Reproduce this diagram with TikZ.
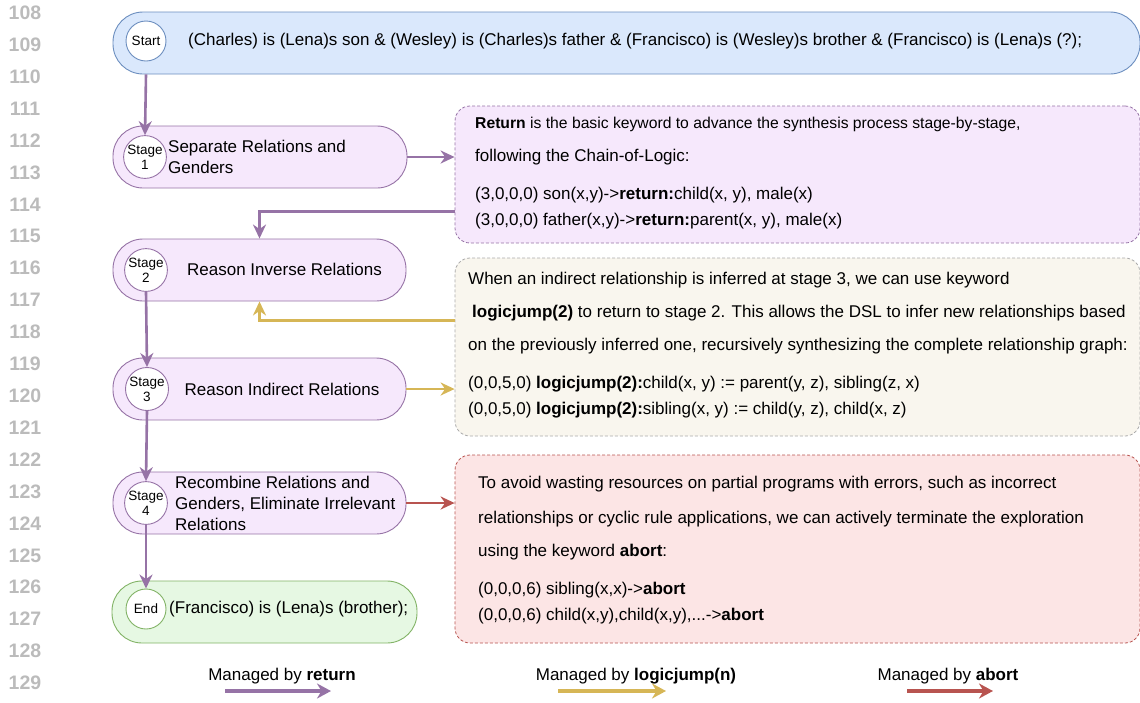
\documentclass[tikz,border=0pt]{standalone}
\usepackage{fontspec}
\setmainfont{Liberation Sans}
\usetikzlibrary{arrows.meta,calc}
\definecolor{pstroke}{HTML}{9673A6}
\definecolor{pfill}{HTML}{F6E8FC}
\definecolor{bstroke}{HTML}{6C8EBF}
\definecolor{bfill}{HTML}{DAE8FC}
\definecolor{gstroke}{HTML}{82B366}
\definecolor{gfill}{HTML}{E6F8E3}
\definecolor{ystroke}{HTML}{D6B656}
\definecolor{yfill}{HTML}{F9F6EE}
\definecolor{graydash}{HTML}{AAAAAA}
\definecolor{rstroke}{HTML}{B85450}
\definecolor{rfill}{HTML}{FCE5E5}
\definecolor{linenum}{HTML}{BBBBBB}
\begin{document}
\begin{tikzpicture}[x=1pt,y=-1pt,
  pill/.style={draw, rounded corners=30pt, minimum height=62pt, line width=0.9pt, inner sep=0pt},
  circ/.style={circle, draw, fill=white, minimum size=40pt, inner sep=0pt, line width=0.9pt,
    font=\fontsize{13.5}{15}\selectfont, align=center},
  note/.style={draw, rounded corners=15pt, line width=0.8pt, inner sep=0pt, dash pattern=on 3pt off 2pt},
  txt/.style={anchor=west, inner sep=0pt, font=\fontsize{17}{21}\selectfont},
  lnum/.style={inner sep=0pt, text=linenum, font=\bfseries\fontsize{19.5}{19.5}\selectfont},
  tipA/.style={-{Stealth[length=14pt,width=13pt,inset=4.5pt]}},
  parr/.style={tipA, draw=pstroke, line width=2.6pt},
  yarr/.style={tipA, draw=ystroke, line width=2.6pt},
  rarr/.style={tipA, draw=rstroke, line width=2.6pt},
  legarr/.style={-{Stealth[length=14pt,width=15pt,inset=4.5pt]}, line width=3.5pt}
]
\useasboundingbox (0,0) rectangle (1140,702);
% line numbers
\foreach \n [count=\i from 0] in {108,...,129} {
  \node[lnum] (ln\n) at (25,{13+\i*31.9}) {\n};
}
% main pills
\node[pill, draw=bstroke, fill=bfill, minimum width=1027pt] (s0) at (626.5,43) {};
\node[pill, draw=pstroke, fill=pfill, minimum width=294pt] (s1) at (260,157) {};
\node[pill, draw=pstroke, fill=pfill, minimum width=293pt] (s2) at (259.5,270) {};
\node[pill, draw=pstroke, fill=pfill, minimum width=293pt] (s3) at (259.5,389) {};
\node[pill, draw=pstroke, fill=pfill, minimum width=293pt] (s4) at (259.5,503) {};
\node[pill, draw=gstroke, fill=gfill, minimum width=305pt] (se) at (264.5,612) {};
% circles
\node[circ, draw=bstroke] (c0) at (146,41) {Start};
\node[circ, draw=pstroke] (c1) at (145,157) {Stage\\1};
\node[circ, draw=pstroke] (c2) at (146,270) {Stage\\2};
\node[circ, draw=pstroke] (c3) at (147,389) {Stage\\3};
\node[circ, draw=pstroke] (c4) at (146,503) {Stage\\4};
\node[circ, draw=gstroke] (ce) at (146,609) {End};
% pill texts
\node[txt] (t0) at (188,41) {(Charles) is (Lena)s son \& (Wesley) is (Charles)s father \& (Francisco) is (Wesley)s brother \& (Francisco) is (Lena)s (?);};
\node[txt, align=left] (t1) at (168,157) {Separate Relations and\\Genders};
\node[txt, anchor=center] (t2) at (284.5,269) {Reason Inverse Relations};
\node[txt, anchor=center] (t3) at (282,389) {Reason Indirect Relations};
\node[txt, align=left] (t4) at (175,503) {Recombine Relations and\\Genders, Eliminate Irrelevant\\Relations};
\node[txt] (te) at (169,609) {(Francisco) is (Lena)s (brother);};
% notes
\node[note, draw=pstroke, fill=pfill, minimum width=685pt, minimum height=137pt] (rbox) at (797.5,174.5) {};
\node[note, draw=graydash, fill=yfill, minimum width=685pt, minimum height=178pt] (jbox) at (797.5,347) {};
\node[note, draw=rstroke, fill=rfill, minimum width=685pt, minimum height=188pt] (abox) at (797.5,549) {};
% return box text
\node[txt, font=\fontsize{15.7}{18}\selectfont] (r1) at (475,124) {\textbf{Return} is the basic keyword to advance the synthesis process stage-by-stage,};
\node[txt] (r2) at (475,157) {following the Chain-of-Logic:};
\node[txt] (r3) at (475,195) {(3,0,0,0) son(x,y)->\textbf{return:}child(x, y), male(x)};
\node[txt] (r4) at (475,221) {(3,0,0,0) father(x,y)->\textbf{return:}parent(x, y), male(x)};
% logicjump box text
\node[txt] (j1) at (468,280) {When an indirect relationship is inferred at stage 3, we can use keyword};
\node[txt] (j2) at (472,313) {\textbf{logicjump(2)} to return to stage 2. This allows the DSL to infer new relationships based};
\node[txt] (j3) at (468,346) {on the previously inferred one, recursively synthesizing the complete relationship graph:};
\node[txt] (j4) at (468,384) {(0,0,5,0) \textbf{logicjump(2):}child(x, y) := parent(y, z), sibling(z, x)};
\node[txt] (j5) at (468,410) {(0,0,5,0) \textbf{logicjump(2):}sibling(x, y) := child(y, z), child(x, z)};
% abort box text
\node[txt] (a1) at (478,484) {To avoid wasting resources on partial programs with errors, such as incorrect};
\node[txt] (a2) at (478,519) {relationships or cyclic rule applications, we can actively terminate the exploration};
\node[txt] (a3) at (478,552) {using the keyword \textbf{abort}:};
\node[txt] (a4) at (478,590) {(0,0,0,6) sibling(x,x)->\textbf{abort}};
\node[txt] (a5) at (478,616) {(0,0,0,6) child(x,y),child(x,y),...->\textbf{abort}};
% flow connectors
\draw[parr] (c0 |- s0.south) -- (c1.north);
\draw[parr] (c2.south) -- (c3.north);
\draw[parr] (c3.south) -- (c4.north);
\draw[parr] (c4.south) -- (ce.north);
\draw[parr] (s1.east) -- (s1.east -| rbox.west);
\draw[parr] ($(rbox.south west)+(0,-32)$) -| (s2.north);
\draw[yarr] (s3.east) -- (s3.east -| jbox.west);
\draw[yarr] ($(jbox.north west)+(0,63)$) -| (s2.south);
\draw[rarr] (s4.east) -- (s4.east -| abox.west);
% legend
\node[txt, anchor=center] (lg1) at (282,676) {Managed by \textbf{return}};
\node[txt, anchor=center] (lg2) at (636,676) {Managed by \textbf{logicjump(n)}};
\node[txt, anchor=center] (lg3) at (948,676) {Managed by \textbf{abort}};
\coordinate (la1) at (225,691); \coordinate (lb1) at (331,691);
\coordinate (la2) at (558,691); \coordinate (lb2) at (666,691);
\coordinate (la3) at (907,691); \coordinate (lb3) at (993,691);
\draw[legarr, draw=pstroke] (la1) -- (lb1);
\draw[legarr, draw=ystroke] (la2) -- (lb2);
\draw[legarr, draw=rstroke] (la3) -- (lb3);
\end{tikzpicture}
\end{document}
